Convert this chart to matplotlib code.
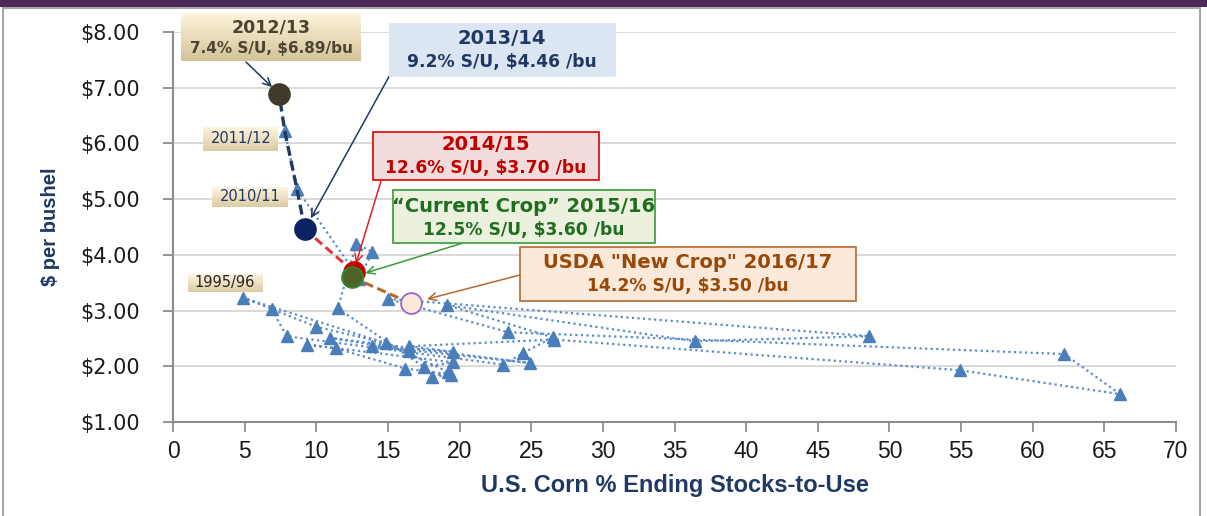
import matplotlib
matplotlib.use("Agg")
import matplotlib.pyplot as plt
from matplotlib.patches import Rectangle
from matplotlib.ticker import FuncFormatter
import numpy as np

# ---------------- data ----------------
years = ["1974/75", "1975/76", "1977/78", "1978/79", "1979/80", "1980/81", "1981/82",
         "1982/83", "1983/84", "1984/85", "1985/86", "1986/87", "1987/88", "1988/89",
         "1989/90", "1990/91", "1991/92", "1992/93", "1993/94", "1994/95", "1995/96",
         "1996/97", "1997/98", "1998/99", "1999/00", "2000/01", "2001/02", "2002/03",
         "2003/04", "2004/05", "2005/06", "2006/07", "2007/08", "2008/09", "2009/10",
         "2010/11", "2011/12"]
stocks_to_use = [6.9, 7.93, 23.05, 24.45, 26.5, 19.1, 36.4,
                 48.6, 15.0, 23.4, 62.2, 66.1, 54.9, 26.6,
                 16.5, 19.56, 13.9, 24.9, 10.96, 16.5, 4.9,
                 10.0, 14.9, 19.2, 18.05, 19.4, 16.2, 11.4,
                 9.33, 19.56, 17.5, 11.5, 12.8, 13.9, 13.0,
                 8.65, 7.8]
price = [3.02, 2.54, 2.03, 2.24, 2.52, 3.10, 2.45,
         2.54, 3.21, 2.61, 2.22, 1.50, 1.93, 2.48,
         2.36, 2.26, 2.36, 2.06, 2.51, 2.28, 3.23,
         2.71, 2.41, 1.90, 1.81, 1.85, 1.96, 2.32,
         2.39, 2.07, 1.99, 3.04, 4.20, 4.05, 3.57,
         5.18, 6.22]

hl_years = ["2012/13", "2013/14", "2014/15", "2015/16", "2016/17"]
hl_su = [7.4, 9.2, 12.6, 12.5, 16.6]
hl_price = [6.89, 4.46, 3.70, 3.60, 3.13]

x_ticks = list(range(0, 75, 5))
y_ticks = [1, 2, 3, 4, 5, 6, 7, 8]

# ---------------- figure ----------------
W, H = 1207, 516
fig = plt.figure(figsize=(W / 100, H / 100), dpi=100)
fig.patch.set_facecolor("white")

def fx(px):
    return px / W

def fy(py):
    return 1 - py / H

ax = fig.add_axes([fx(173), fy(422), (1176 - 173) / W, (422 - 32) / H])
ax.set_xlim(0, 70)
ax.set_ylim(1, 8)

narrow = ["Liberation Sans", "DejaVu Sans"]
navy = "#1f3864"

ax.set_yticks(y_ticks)
ax.set_xticks(x_ticks)
ax.grid(axis="y", color="#d9d9d9", lw=1.4, zorder=0)
ax.set_axisbelow(True)
for s in ["top", "right"]:
    ax.spines[s].set_visible(False)
for s in ["left", "bottom"]:
    ax.spines[s].set_color("#8c8c8c")
    ax.spines[s].set_linewidth(1.5)

ax.yaxis.set_major_formatter(FuncFormatter(lambda v, p: "$%.2f" % v))
ax.tick_params(axis="y", length=7, width=1.3, color="#8c8c8c", pad=17,
               labelsize=15, labelcolor="#1a1a1a")
ax.tick_params(axis="x", length=7, width=1.3, color="#8c8c8c", pad=6,
               labelsize=16.5, labelcolor="#1a1a1a")
for lab in ax.get_xticklabels():
    lab.set_family(narrow)

ax.set_xlabel("U.S. Corn % Ending Stocks-to-Use", family=narrow, fontweight="bold",
              fontsize=17, color=navy, labelpad=8)
ax.set_ylabel("$ per bushel", family=narrow, fontweight="bold", fontsize=14.5,
              color=navy, labelpad=14)

# historical dotted series
ax.plot(stocks_to_use, price, linestyle=(0, (1, 1.5)), lw=1.6, color="#5b8cc8",
        marker="^", markersize=8.5, markerfacecolor="#4a7ebb",
        markeredgecolor="#4a7ebb", zorder=3)

# dashed connectors
i10 = years.index("2010/11")
i11 = years.index("2011/12")
ax.plot([hl_su[1], stocks_to_use[i10], stocks_to_use[i11], hl_su[0]],
        [hl_price[1], price[i10], price[i11], hl_price[0]],
        linestyle=(0, (3, 1.5)), lw=2.4, color="#1f3864", zorder=4)
ax.plot([hl_su[1], hl_su[2]], [hl_price[1], hl_price[2]],
        linestyle=(0, (3, 1.5)), lw=2.2, color="#e03a3a", zorder=4)
ax.plot([hl_su[3], hl_su[4]], [hl_price[3], hl_price[4]],
        linestyle=(0, (3, 1.5)), lw=2.2, color="#b8692a", zorder=4)

# highlighted circles
hl_face = ["#403b29", "#0b2360", "#cc0000", "#4f6228", "#fde9d9"]
hl_edge = ["#403b29", "#0b2360", "#cc0000", "#2e8b2e", "#9966cc"]
for xs, ys, fc, ec in zip(hl_su, hl_price, hl_face, hl_edge):
    ax.plot([xs], [ys], marker="o", markersize=15, markerfacecolor=fc,
            markeredgecolor=ec, markeredgewidth=1.3, linestyle="none", zorder=6)

# ---------------- annotation boxes ----------------
def hex2rgb(h):
    h = h.lstrip("#")
    return np.array([int(h[i:i + 2], 16) / 255 for i in (0, 2, 4)])

def gradient_box(l, t, r, b, top_c, bot_c, n=16):
    c1, c2 = hex2rgb(top_c), hex2rgb(bot_c)
    hstep = (b - t) / n
    for k in range(n):
        c = c1 + (c2 - c1) * (k / (n - 1))
        fig.patches.append(Rectangle((fx(l), fy(t + (k + 1) * hstep)), fx(r) - fx(l),
                                     hstep / H * 1.02, transform=fig.transFigure,
                                     facecolor=c, edgecolor="none", zorder=5))

def flat_box(l, t, r, b, face, edge=None, lw=1.2):
    fig.patches.append(Rectangle((fx(l), fy(b)), fx(r) - fx(l), (b - t) / H,
                                 transform=fig.transFigure, facecolor=face,
                                 edgecolor=edge if edge else "none", lw=lw, zorder=5))

def label(cx, cy, s, size, color, weight="bold"):
    fig.text(fx(cx), fy(cy), s, ha="center", va="center", fontsize=size,
             color=color, fontweight=weight, zorder=7, parse_math=False)

def arrow(px, py, xd, yd, color, shrink):
    ax.annotate("", xy=(xd, yd), xycoords="data", xytext=(px, H - py),
                textcoords="figure pixels",
                arrowprops=dict(arrowstyle="->", color=color, lw=1.1,
                                shrinkA=0, shrinkB=shrink, mutation_scale=14),
                zorder=5)

# 2012/13
gradient_box(181, 13, 361, 61, "#fdf2da", "#d5c49a")
label(271, 28, "2012/13", 12.5, "#4a4430")
label(271, 49, "7.4% S/U, $6.89/bu", 11, "#4a4430")
arrow(246, 62, hl_su[0], hl_price[0], "#1f3864", 7)

# 2013/14
flat_box(389, 23, 616, 77, "#dce6f2")
label(502, 39, "2013/14", 14, "#1f3864")
label(502, 62, "9.2% S/U, $4.46 /bu", 12.3, "#1f3864")
arrow(391, 73, hl_su[1], hl_price[1], "#1f3864", 9)

# 2014/15
flat_box(373, 132, 599, 180, "#f2dcdb", "#e00000")
label(486, 144, "2014/15", 14, "#c00000")
label(486, 168, "12.6% S/U, $3.70 /bu", 12.3, "#c00000")
arrow(381, 181, hl_su[2], hl_price[2], "#e02020", 6)

# 2015/16
flat_box(393, 190, 655, 243, "#ebf1de", "#3a9a3a")
label(524, 207, "\u201cCurrent Crop\u201d 2015/16", 14, "#1e6e1e")
label(524, 230, "12.5% S/U, $3.60 /bu", 12.3, "#1e6e1e")
arrow(463, 243, hl_su[3], hl_price[3], "#3a9a3a", 10)

# 2016/17
flat_box(520, 247, 856, 301, "#fde9d9", "#b4692e")
label(688, 263, 'USDA "New Crop" 2016/17', 14, "#984807")
label(688, 286, "14.2% S/U, $3.50 /bu", 12.3, "#984807")
arrow(520, 275, hl_su[4], hl_price[4], "#b4692e", 12)

# small year tags
gradient_box(203, 127, 278, 151, "#fdf4e0", "#dccca4")
label(241, 139, "2011/12", 10.5, "#1f3864", "normal")
gradient_box(212, 187, 288, 207, "#fdf4e0", "#dccca4")
label(250, 197, "2010/11", 10.5, "#1f3864", "normal")
gradient_box(188, 274, 263, 292, "#fdf4e0", "#dccca4")
label(225, 283, "1995/96", 10.5, "#262626", "normal")

# slide frame
fig.patches.append(Rectangle((fx(3), fy(520)), fx(1200) - fx(3), (520 - 8) / H,
                             transform=fig.transFigure, facecolor="none",
                             edgecolor="#a6a6a6", lw=1.5, zorder=1))
fig.patches.append(Rectangle((0, fy(7)), 1, 7 / H, transform=fig.transFigure,
                             facecolor="#4a2a58", edgecolor="none", zorder=1))

fig.savefig("out.png", dpi=100)
